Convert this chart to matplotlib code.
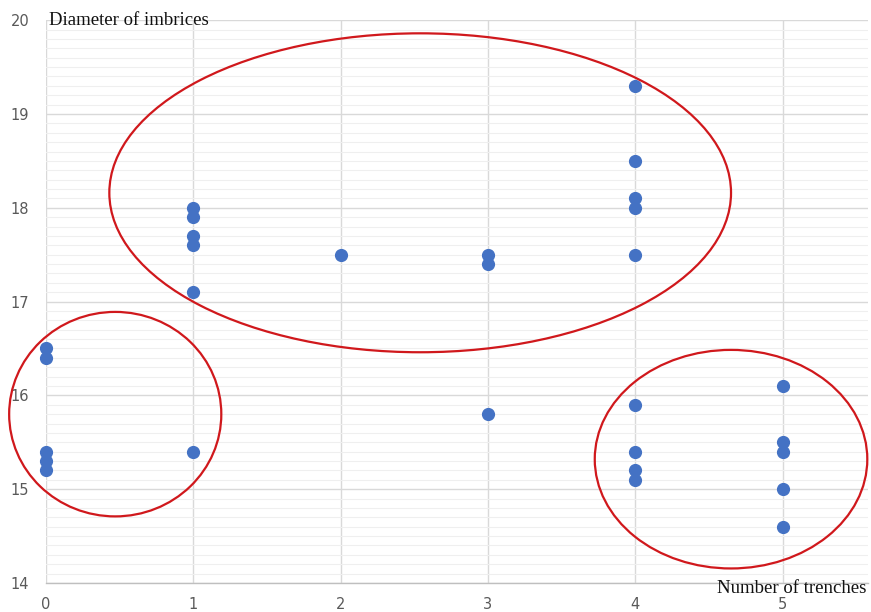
import matplotlib
matplotlib.use("Agg")
import matplotlib.pyplot as plt
from matplotlib.patches import Ellipse
from matplotlib.ticker import MultipleLocator

# Number of trenches vs. diameter of imbrices
trenches_0 = [16.5, 16.4, 15.4, 15.3, 15.2]
trenches_1 = [18.0, 17.9, 17.7, 17.6, 17.1, 15.4]
trenches_2 = [17.5]
trenches_3 = [17.5, 17.4, 15.8]
trenches_4 = [19.3, 18.5, 18.1, 18.0, 17.5, 15.9, 15.4, 15.2, 15.1]
trenches_5 = [16.1, 15.5, 15.4, 15.0, 14.6]
groups = [trenches_0, trenches_1, trenches_2, trenches_3, trenches_4, trenches_5]

x_vals = [i for i, g in enumerate(groups) for _ in g]
y_vals = [v for g in groups for v in g]

# Cluster outlines: (center x, center y, width, height)
clusters = [
    (2.54, 18.16, 4.22, 3.40),
    (0.47, 15.80, 1.44, 2.18),
    (4.65, 15.32, 1.85, 2.33),
]

fig = plt.figure(figsize=(8.71, 6.12), dpi=100)
ax = fig.add_axes([0.0528, 0.0474, 0.9438, 0.9196])

ax.set_xlim(0, 5.58)
ax.set_ylim(14, 20)
ax.xaxis.set_major_locator(MultipleLocator(1))
ax.yaxis.set_major_locator(MultipleLocator(1))
ax.yaxis.set_minor_locator(MultipleLocator(0.1))

ax.grid(which="major", axis="both", color="#d9d9d9", linewidth=1.0, zorder=0)
ax.grid(which="minor", axis="y", color="#efefef", linewidth=0.8, zorder=0)
ax.set_axisbelow(True)

for s in ["top", "right", "left"]:
    ax.spines[s].set_visible(False)
ax.spines["bottom"].set_color("#bfbfbf")
ax.spines["bottom"].set_linewidth(1.0)

ax.tick_params(which="both", length=0)
ax.tick_params(axis="both", labelsize=10.5, labelcolor="#595959")
ax.tick_params(axis="y", pad=12)
ax.tick_params(axis="x", pad=10)

ax.scatter(x_vals, y_vals, s=72, color="#4472C4", zorder=3, clip_on=False)

for cx, cy, w, h in clusters:
    ax.add_patch(Ellipse((cx, cy), w, h, fill=False, edgecolor="#D0181C",
                         linewidth=1.6, zorder=4, clip_on=False))

ax.text(0.02, 20.0, "Diameter of imbrices", family="Liberation Serif",
        fontsize=13.5, color="#111111", va="center", ha="left",
        clip_on=False, zorder=5)
ax.text(5.57, 13.94, "Number of trenches", family="Liberation Serif",
        fontsize=13.5, color="#111111", va="center", ha="right",
        clip_on=False, zorder=5)

fig.savefig("out.png", dpi=100, facecolor="white")
